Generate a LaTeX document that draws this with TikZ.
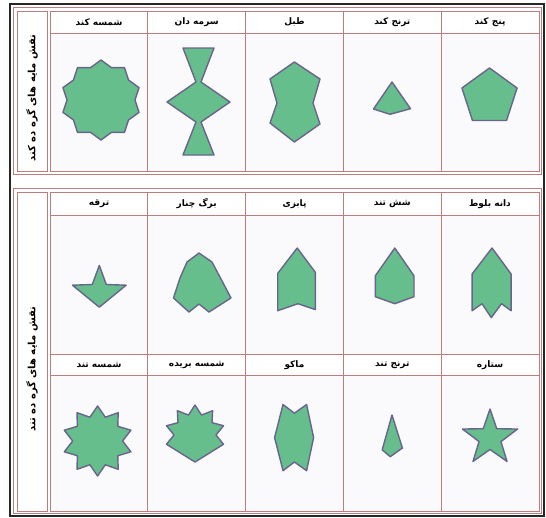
\documentclass[tikz,border=0pt]{standalone}
\usepackage{fontspec}
\TeXXeTstate=1
\newfontfamily\arabicfont[Script=Arabic]{DejaVu Sans}
\definecolor{tileGreen}{RGB}{102,190,140}
\definecolor{tileEdge}{RGB}{105,100,140}
\definecolor{gridPink}{RGB}{190,125,125}
\definecolor{cellBg}{RGB}{250,250,252}
\tikzset{
  tile/.style={fill=tileGreen,draw=tileEdge,line width=1.4pt,line join=round},
  grid/.style={draw=gridPink,line width=0.8pt},
  head/.style={font=\arabicfont\bfseries\fontsize{9}{10}\selectfont,inner sep=0pt,anchor=center},
  side/.style={font=\arabicfont\bfseries\fontsize{10}{11}\selectfont,inner sep=0pt,rotate=90,anchor=center}
}
\begin{document}
\begin{tikzpicture}[x=1pt,y=-1pt]
\useasboundingbox (0,0) rectangle (546,517);
\fill[white] (0,0) rectangle (546,517);
% outer frames
\draw[line width=2pt,black!85] (10,4) rectangle (544,516);
\draw[grid] (13,7) rectangle (541,174);
\draw[grid] (13,188) rectangle (541,513);
% top section
\draw[grid,fill=white] (17,11) rectangle (47,171);
\draw[grid,fill=cellBg] (50,11) rectangle (539,171);
\fill[white] (50,11) rectangle (539,33);
\draw[grid] (50,11) rectangle (539,171);
\draw[grid] (50,33) -- (539,33);
\foreach \xx in {147.8,245.6,343.4,441.2} \draw[grid] (\xx,11) -- (\xx,171);
% bottom section
\draw[grid,fill=white] (17,192) rectangle (47,511);
\draw[grid,fill=cellBg] (50,192) rectangle (539,511);
\fill[white] (50,192) rectangle (539,215);
\fill[white] (50,354) rectangle (539,375);
\draw[grid] (50,192) rectangle (539,511);
\draw[grid] (50,215) -- (539,215);
\draw[grid] (50,354) -- (539,354);
\draw[grid] (50,375) -- (539,375);
\foreach \xx in {147.8,245.6,343.4,441.2} \draw[grid] (\xx,192) -- (\xx,511);
% side labels
\node[side] (s1) at (32,98) {\beginR نقش مایه های گره ده کند\endR};
\node[side] (s2) at (32,369) {\beginR نقش مایه های گره ده تند\endR};
% headers top
\node[head] (h11) at (99,22) {\beginR شمسه کند\endR};
\node[head] (h12) at (196.7,22) {\beginR سرمه دان\endR};
\node[head] (h13) at (294.5,22) {\beginR طبل\endR};
\node[head] (h14) at (392.3,22) {\beginR ترنج کند\endR};
\node[head] (h15) at (490,22) {\beginR پنج کند\endR};
% headers bottom row 1
\node[head] (h21) at (99,204) {\beginR ترقه\endR};
\node[head] (h22) at (196.7,204) {\beginR برگ چنار\endR};
\node[head] (h23) at (294.5,204) {\beginR پابزی\endR};
\node[head] (h24) at (392.3,204) {\beginR شش تند\endR};
\node[head] (h25) at (490,204) {\beginR دانه بلوط\endR};
% headers bottom row 2
\node[head] (h31) at (99,365) {\beginR شمسه تند\endR};
\node[head] (h32) at (196.7,365) {\beginR شمسه بریده\endR};
\node[head] (h33) at (294.5,365) {\beginR ماکو\endR};
\node[head] (h34) at (392.3,365) {\beginR ترنج تند\endR};
\node[head] (h35) at (490,365) {\beginR ستاره\endR};
% ---- top shapes
\begin{scope}[shift={(101,100)}]
\draw[tile] (-90:40) \foreach \k in {0,...,9}{ -- (-72+36*\k:34) -- (-54+36*\k:40)} -- cycle;
\end{scope}
\draw[tile] (183,48) -- (214,48) -- (201,82) -- (230,102) -- (201,122) -- (214,155) -- (183,155) -- (196,122) -- (167,102) -- (196,82) -- cycle;
\draw[tile] (294.4,62) -- (320,79) -- (313,103) -- (320,124) -- (294.4,142) -- (270,123) -- (277,103) -- (270,79) -- cycle;
\draw[tile] (392,82) -- (410.5,108.7) -- (390,114.3) -- (373.5,109) -- cycle;
\begin{scope}[shift={(489.5,97)}]
\draw[tile] (-90:29) -- (-18:29) -- (54:29) -- (126:29) -- (198:29) -- cycle;
\end{scope}
% ---- bottom row 1
\draw[tile] (99.3,265.4) -- (106.3,284.5) -- (126.1,285.2) -- (99.3,307.2) -- (72.5,285.2) -- (92.3,284.5) -- cycle;
\draw[tile] (199,253) -- (212,262) -- (221,279) -- (231,298) -- (209,312) -- (199,304) -- (189,312) -- (173.5,298) -- (180,278) -- (187,262) -- cycle;
\draw[tile] (297.2,248) -- (315.3,272.3) -- (315.3,309.6) -- (297.9,303.7) -- (277.7,310.7) -- (277.7,273.4) -- cycle;
\draw[tile] (394.8,248) -- (414,275.8) -- (414,296.7) -- (394.8,303.7) -- (375.3,296.7) -- (375.3,275.8) -- cycle;
\draw[tile] (492,248) -- (511.1,274) -- (511.1,310.7) -- (501.5,303.7) -- (491.3,317.6) -- (482,303.7) -- (472.1,310.7) -- (472.1,274) -- cycle;
% ---- bottom row 2
\begin{scope}[shift={(97.6,441)}]
\draw[tile] (-90:35) \foreach \k in {0,...,9}{ -- (-72+36*\k:25) -- (-54+36*\k:35)} -- cycle;
\end{scope}
\begin{scope}[shift={(195,435)}]
\draw[tile] (18:30) \foreach \k in {0,...,5}{ -- (-36*\k:21) -- (-18-36*\k:30)} -- (90:27) -- cycle;
\end{scope}
\draw[tile] (283,404.5) -- (294.4,413.2) -- (306.6,404.5) -- (313.6,437.6) -- (306.6,470.7) -- (294.4,462) -- (283,470.7) -- (274.6,437.6) -- cycle;
\draw[tile] (392,415) -- (402.4,448) -- (390.2,456.7) -- (382.2,449.8) -- cycle;
\begin{scope}[shift={(490,438)}]
\draw[tile] (-90:29) \foreach \k in {0,...,4}{ -- (-54+72*\k:11.5) -- (-18+72*\k:29)} -- cycle;
\end{scope}
\end{tikzpicture}
\end{document}
